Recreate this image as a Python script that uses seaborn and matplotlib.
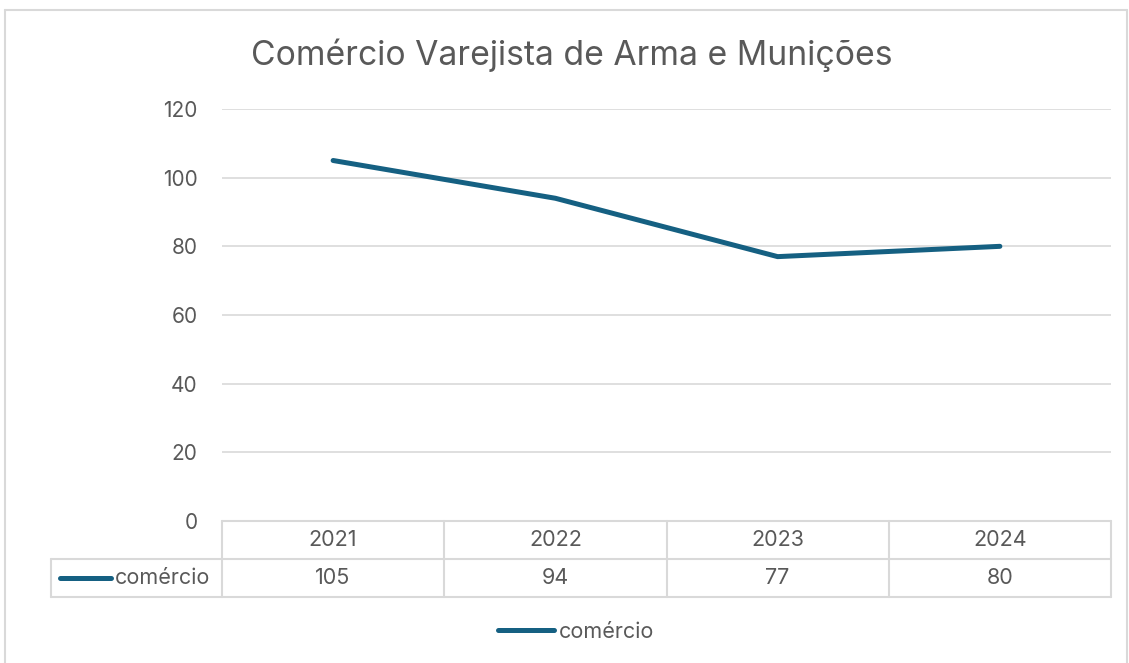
import matplotlib
matplotlib.use("Agg")
import matplotlib.pyplot as plt
from matplotlib.lines import Line2D
import seaborn as sns
import pandas as pd

title = "Comércio Varejista de Arma e Munições"
series_name = "comércio"
years = ["2021", "2022", "2023", "2024"]
values = [105, 94, 77, 80]
y_ticks = [0, 20, 40, 60, 80, 100, 120]

sns.set_theme(style="white")
plt.rcParams['font.family'] = ['Inter', 'DejaVu Sans']

W, H = 1129, 663
LINE = "#156082"
GRID = "#d9d9d9"
TXT = "#595959"
FS = 15.5
fig = plt.figure(figsize=(W / 100, H / 100), dpi=100)

def fx(px):
    return px / W

def fy(py):
    return 1 - py / H

L, R, T, B = 222, 1111, 109, 521
ax = fig.add_axes([fx(L), fy(B), fx(R) - fx(L), fy(T) - fy(B)])

df = pd.DataFrame({"year": years, "value": values})
sns.lineplot(data=df, x="year", y="value", ax=ax, color=LINE, linewidth=3.6,
             solid_capstyle="round", label=series_name, legend=False)
ax.set_xlim(-0.5, len(years) - 0.5)
ax.set_ylim(min(y_ticks), max(y_ticks))
ax.set_yticks(y_ticks)
ax.set_xticks([])
ax.set_xlabel("")
ax.set_ylabel("")
for s in ax.spines.values():
    s.set_visible(False)
ax.yaxis.grid(True, color=GRID, linewidth=1.2)
ax.set_axisbelow(True)
ax.tick_params(axis="y", length=0, pad=17.5, labelsize=15, labelcolor=TXT)

# Title
fig.text(fx(572), fy(55), title, ha="center", va="center", fontsize=24.3, color=TXT)

# Outer frame
for (x0, y0, x1, y1) in [(5, 10, 1127, 10), (5, 10, 5, 663), (1127, 10, 1127, 663)]:
    fig.add_artist(Line2D([fx(x0), fx(x1)], [fy(y0), fy(y1)], color=GRID, linewidth=1.5))

# Data table
col_w = (R - L) / len(years)
r0, r1, r2 = B, 559, 597
tab_left = 51
tl = dict(color=GRID, linewidth=1.5)
fig.add_artist(Line2D([fx(L), fx(R)], [fy(r0), fy(r0)], **tl))
fig.add_artist(Line2D([fx(tab_left), fx(R)], [fy(r1), fy(r1)], **tl))
fig.add_artist(Line2D([fx(tab_left), fx(R)], [fy(r2), fy(r2)], **tl))
fig.add_artist(Line2D([fx(tab_left), fx(tab_left)], [fy(r1), fy(r2)], **tl))
for i in range(len(years) + 1):
    xv = L + i * col_w
    fig.add_artist(Line2D([fx(xv), fx(xv)], [fy(r0), fy(r2)], **tl))
for i, (yr, v) in enumerate(zip(years, values)):
    xc = L + (i + 0.5) * col_w
    fig.text(fx(xc), fy((r0 + r1) / 2), yr, ha="center", va="center", fontsize=FS, color=TXT)
    fig.text(fx(xc), fy((r1 + r2) / 2), str(v), ha="center", va="center", fontsize=FS, color=TXT)
ym = (r1 + r2) / 2
fig.add_artist(Line2D([fx(60), fx(111)], [fy(ym), fy(ym)], color=LINE, linewidth=3.6,
                      solid_capstyle="round"))
fig.text(fx(115), fy(ym), series_name, ha="left", va="center", fontsize=FS, color=TXT)

# Bottom legend
handles, labels = ax.get_legend_handles_labels()
leg = fig.legend(handles, labels, loc="center", bbox_to_anchor=(fx(576), fy(632)),
                 frameon=False, fontsize=FS, handlelength=2.6, handletextpad=0.2)
for t in leg.get_texts():
    t.set_color(TXT)
for h in leg.legend_handles:
    h.set_solid_capstyle("round")

fig.savefig("out.png", dpi=100, facecolor="white")
